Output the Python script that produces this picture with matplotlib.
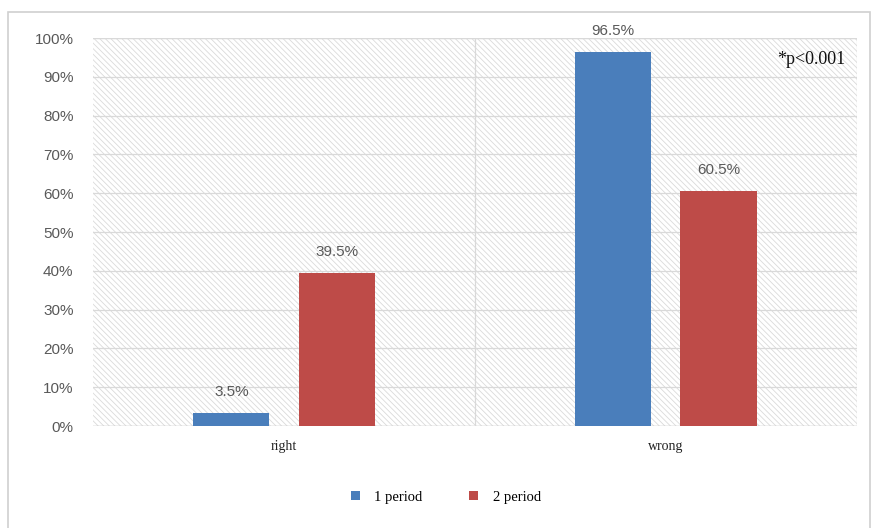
import matplotlib
matplotlib.use("Agg")
import matplotlib.pyplot as plt
from matplotlib.patches import Rectangle
import numpy as np

categories = ["right", "wrong"]
period1 = [3.5, 96.5]
period2 = [39.5, 60.5]
series_names = ["1 period", "2 period"]
yticks = [0, 10, 20, 30, 40, 50, 60, 70, 80, 90, 100]

blue = "#4A7EBB"
red = "#BE4B48"
grid_c = "#D9D9D9"
text_c = "#595959"

fig = plt.figure(figsize=(8.71, 5.28), dpi=100)
ax = fig.add_axes([0.1068, 0.193, 0.877, 0.735])

# outer border
fig.patches.append(Rectangle((8/871, -0.01), 0.999 - 8/871, 1 - 12/528 + 0.01,
                             transform=fig.transFigure, fill=False,
                             edgecolor="#D0D0D0", linewidth=1.2))

ax.set_xlim(-0.5, 1.5)
ax.set_ylim(0, 100)

# hatched background
plt.rcParams['hatch.linewidth'] = 0.6
ax.add_patch(Rectangle((-0.5, 0), 2, 100, facecolor="white", edgecolor="#DADADA",
                       hatch="\\\\\\\\\\\\", linewidth=0, zorder=0))

for y in yticks:
    ax.axhline(y, color=grid_c, linewidth=0.9, zorder=1)
ax.axhline(0, color="#C8C8C8", linewidth=1.0, zorder=1)
ax.axvline(0.5, color=grid_c, linewidth=0.9, zorder=1)
ax.plot([1.5, 1.5], [0, 100], color=grid_c, linewidth=0.9, zorder=1)
ax.plot([-0.5, 1.5], [100, 100], color=grid_c, linewidth=0.9, zorder=1)

x = np.arange(len(categories))
w = 0.2
off = 0.138
b1 = ax.bar(x - off, period1, w, color=blue, label=series_names[0], zorder=3)
b2 = ax.bar(x + off, period2, w, color=red, label=series_names[1], zorder=3)

for bars, vals in ((b1, period1), (b2, period2)):
    for b, v in zip(bars, vals):
        ax.text(b.get_x() + b.get_width() / 2, v + 3.6, f"{v}%", ha="center", va="bottom",
                fontsize=11, color=text_c, family="Liberation Sans", clip_on=False)

ax.set_yticks(yticks)
ax.set_yticklabels([f"{t}%" for t in yticks], fontsize=11, color=text_c, family="Liberation Sans")
ax.set_xticks(x)
ax.set_xticklabels(categories, fontsize=10, family="Liberation Serif", color="#222222")
ax.tick_params(axis="both", length=0)
ax.tick_params(axis="y", pad=14)
ax.tick_params(axis="x", pad=10)
for s in ax.spines.values():
    s.set_visible(False)

ax.text(0.985, 0.945, "*p<0.001", transform=ax.transAxes, ha="right", va="center",
        fontsize=13, family="Liberation Serif", color="#111111")

leg = fig.legend(handles=[b1, b2], labels=series_names, loc="center",
                 bbox_to_anchor=(0.512, 1 - 497/528), ncol=2, frameon=False,
                 prop={"family": "Liberation Serif", "size": 10.5},
                 handlelength=0.6, handleheight=0.6, columnspacing=3.2, handletextpad=1.0)

fig.savefig("out.png", dpi=100)
